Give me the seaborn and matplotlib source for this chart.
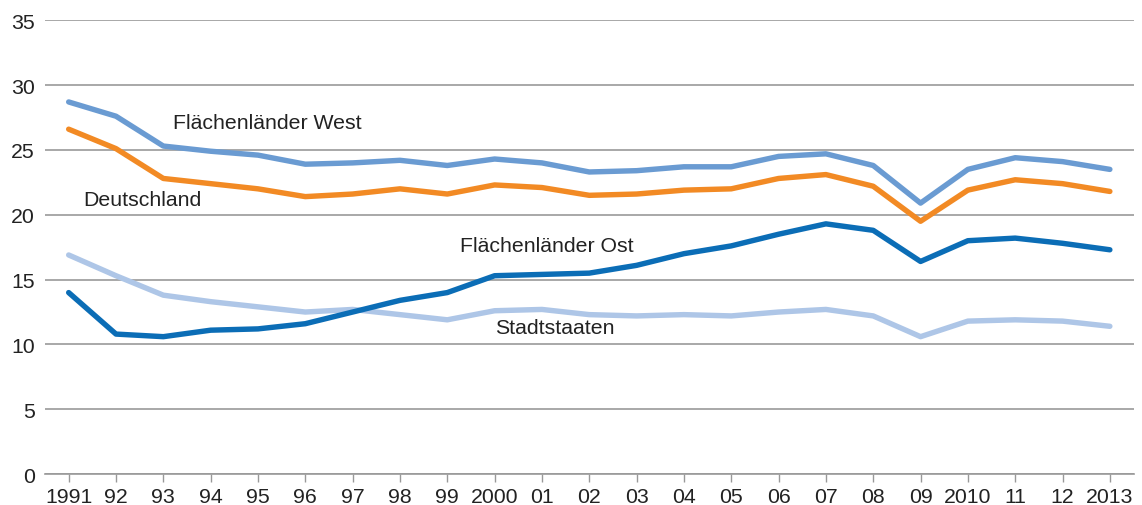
import pandas as pd
import seaborn as sns
import matplotlib.pyplot as plt

# Values
years = list(range(1991, 2014))
year_labels = ['1991', '92', '93', '94', '95', '96', '97', '98', '99', '2000',
               '01', '02', '03', '04', '05', '06', '07', '08', '09', '2010',
               '11', '12', '2013']

west = [28.7, 27.6, 25.3, 24.9, 24.6, 23.9, 24.0, 24.2, 23.8, 24.3, 24.0, 23.3,
        23.4, 23.7, 23.7, 24.5, 24.7, 23.8, 20.9, 23.5, 24.4, 24.1, 23.5]
deutschland = [26.6, 25.1, 22.8, 22.4, 22.0, 21.4, 21.6, 22.0, 21.6, 22.3, 22.1, 21.5,
               21.6, 21.9, 22.0, 22.8, 23.1, 22.2, 19.5, 21.9, 22.7, 22.4, 21.8]
ost = [14.0, 10.8, 10.6, 11.1, 11.2, 11.6, 12.5, 13.4, 14.0, 15.3, 15.4, 15.5,
       16.1, 17.0, 17.6, 18.5, 19.3, 18.8, 16.4, 18.0, 18.2, 17.8, 17.3]
stadtstaaten = [16.9, 15.3, 13.8, 13.3, 12.9, 12.5, 12.7, 12.3, 11.9, 12.6, 12.7, 12.3,
                12.2, 12.3, 12.2, 12.5, 12.7, 12.2, 10.6, 11.8, 11.9, 11.8, 11.4]

series_names = ['Stadtstaaten', 'Flächenländer Ost', 'Deutschland', 'Flächenländer West']
series_values = [stadtstaaten, ost, deutschland, west]
colors = {'Stadtstaaten': '#aec6e7',
          'Flächenländer Ost': '#0b6db6',
          'Deutschland': '#f28a24',
          'Flächenländer West': '#6a9bd2'}

# long format for seaborn
frames = []
for name, vals in zip(series_names, series_values):
    frames.append(pd.DataFrame({'Jahr': years, 'Wert': vals, 'Reihe': name}))
df = pd.concat(frames, ignore_index=True)

sns.set_theme(style='white')
plt.rcParams['font.family'] = ['Liberation Sans', 'DejaVu Sans']

fig = plt.figure(figsize=(11.42, 5.06), dpi=100)
ax = fig.add_axes([0.039, 0.061, 0.954, 0.897])

sns.lineplot(data=df, x='Jahr', y='Wert', hue='Reihe', hue_order=series_names,
             palette=colors, linewidth=3.9, legend=False, ax=ax, zorder=3)

ax.set_xlim(1990.49, 2013.51)
ax.set_ylim(0, 35)
ax.set_yticks(range(0, 36, 5))
ax.set_xticks(years)
ax.set_xticklabels(year_labels)
ax.set_xlabel('')
ax.set_ylabel('')

# horizontal grid lines
ax.yaxis.grid(True, color='#999999', linewidth=1.2)
ax.xaxis.grid(False)
for side in ['left', 'right', 'top']:
    ax.spines[side].set_visible(False)
ax.spines['bottom'].set_color('#999999')
ax.spines['bottom'].set_linewidth(1.2)

fs = 15.3
ax.tick_params(axis='x', which='major', bottom=True, length=6, width=1,
               color='#999999', labelsize=fs, labelcolor='#222222', pad=3)
ax.tick_params(axis='y', left=False, labelsize=fs, labelcolor='#222222', pad=1)

# direct labels
label_kw = dict(fontsize=fs, color='#222222', va='center', ha='left')
ax.text(1993.2, 27.1, 'Flächenländer West', **label_kw)
ax.text(1991.3, 21.2, 'Deutschland', **label_kw)
ax.text(1999.27, 17.6, 'Flächenländer Ost', **label_kw)
ax.text(2000.0, 11.3, 'Stadtstaaten', **label_kw)

plt.savefig('out.png', dpi=100)
plt.close()
